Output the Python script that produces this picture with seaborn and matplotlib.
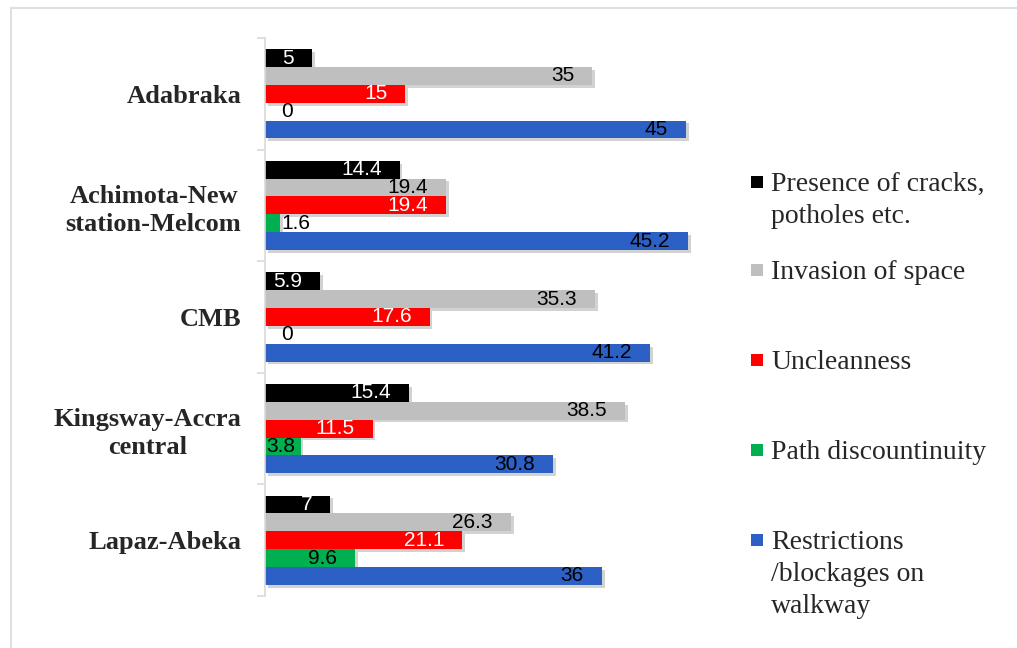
import matplotlib.pyplot as plt
import matplotlib.patheffects as pe
from matplotlib.patches import Rectangle
import pandas as pd
import seaborn as sns

# Data
areas = ['Adabraka', 'Achimota-New\nstation-Melcom', 'CMB',
         'Kingsway-Accra\ncentral', 'Lapaz-Abeka']
issues = ['Presence of cracks,\npotholes etc.', 'Invasion of space',
          'Uncleanness', 'Path discountinuity',
          'Restrictions\n/blockages on\nwalkway']
cracks = [5, 14.4, 5.9, 15.4, 7]
invasion = [35, 19.4, 35.3, 38.5, 26.3]
unclean = [15, 19.4, 17.6, 11.5, 21.1]
path = [0, 1.6, 0, 3.8, 9.6]
restrict = [45, 45.2, 41.2, 30.8, 36]

colors = ['#000000', '#BFBFBF', '#FF0000', '#00B050', '#2C60C4']
text_colors = ['white', 'black', 'white', 'black', 'black']

rows = []
for issue, vals in zip(issues, [cracks, invasion, unclean, path, restrict]):
    for area, v in zip(areas, vals):
        rows.append({'area': area, 'issue': issue, 'value': v})
df = pd.DataFrame(rows)

sns.set_theme(style='white')
plt.rcParams['font.family'] = ['Liberation Serif', 'DejaVu Serif']

fig = plt.figure(figsize=(10.17, 6.48), dpi=100)
ax = fig.add_axes([265 / 1017, 1 - 596 / 648, 435 / 1017, 558 / 648])

sns.barplot(data=df, y='area', x='value', hue='issue', order=areas,
            hue_order=issues, palette=colors, orient='h', saturation=1,
            errorbar=None, width=0.8, gap=0, legend=False, ax=ax)

shadow = [pe.SimplePatchShadow(offset=(2, -2), shadow_rgbFace='#808080',
                               alpha=0.35), pe.Normal()]
for i, cont in enumerate(ax.containers):
    for bar in cont:
        bar.set_linewidth(0)
        bar.set_path_effects(shadow)
        v = bar.get_width()
        yc = bar.get_y() + bar.get_height() / 2
        label = f'{v:g}'
        if v < 2:
            ax.annotate(label, (max(v, 1.6), yc), xytext=(1, 0),
                        textcoords='offset points', ha='left', va='center',
                        fontsize=15, family='Liberation Sans', color='black')
        elif v < 5:
            ax.annotate(label, (0, yc), xytext=(1, 0),
                        textcoords='offset points', ha='left', va='center',
                        fontsize=15, family='Liberation Sans',
                        color=text_colors[i])
        else:
            ax.annotate(label, (v, yc), xytext=(-13, 0),
                        textcoords='offset points', ha='right', va='center',
                        fontsize=15, family='Liberation Sans',
                        color=text_colors[i])

ax.set_xlim(0, 46.5)
ax.set_ylim(4.5, -0.5)
ax.set_xticks([])
ax.set_xlabel('')
ax.set_ylabel('')
for s in ['top', 'right', 'bottom']:
    ax.spines[s].set_visible(False)
ax.spines['left'].set_color('#D9D9D9')
ax.spines['left'].set_linewidth(1.2)

ax.set_yticks(range(len(areas)))
ax.set_yticklabels(areas, fontsize=19, fontweight='bold',
                   linespacing=1.3)
for lab in ax.get_yticklabels():
    lab.set_multialignment('center')
ax.tick_params(axis='y', which='major', length=0, pad=17)
ax.set_yticks([k - 0.5 for k in range(len(areas) + 1)], minor=True)
ax.tick_params(axis='y', which='minor', length=6, width=1.2,
               color='#D9D9D9', left=True)

# legend drawn beside the plot
leg_y = [182, 270, 360, 450, 540]
for lab, col, yc in zip(issues, colors, leg_y):
    fig.add_artist(Rectangle((751 / 1017, 1 - (yc + 6) / 648), 12 / 1017,
                             12 / 648, transform=fig.transFigure,
                             facecolor=col, edgecolor='none'))
    fig.text(771 / 1017, 1 - (yc - 10) / 648, lab, fontsize=20,
             va='top', ha='left', linespacing=1.38)

# chart frame
fig.add_artist(Rectangle((11 / 1017, -0.05), 1.2, 1 - 8 / 648 + 0.05,
                         transform=fig.transFigure, fill=False,
                         edgecolor='#DDE1E6', linewidth=1.5))

fig.savefig('out.png', dpi=100)
